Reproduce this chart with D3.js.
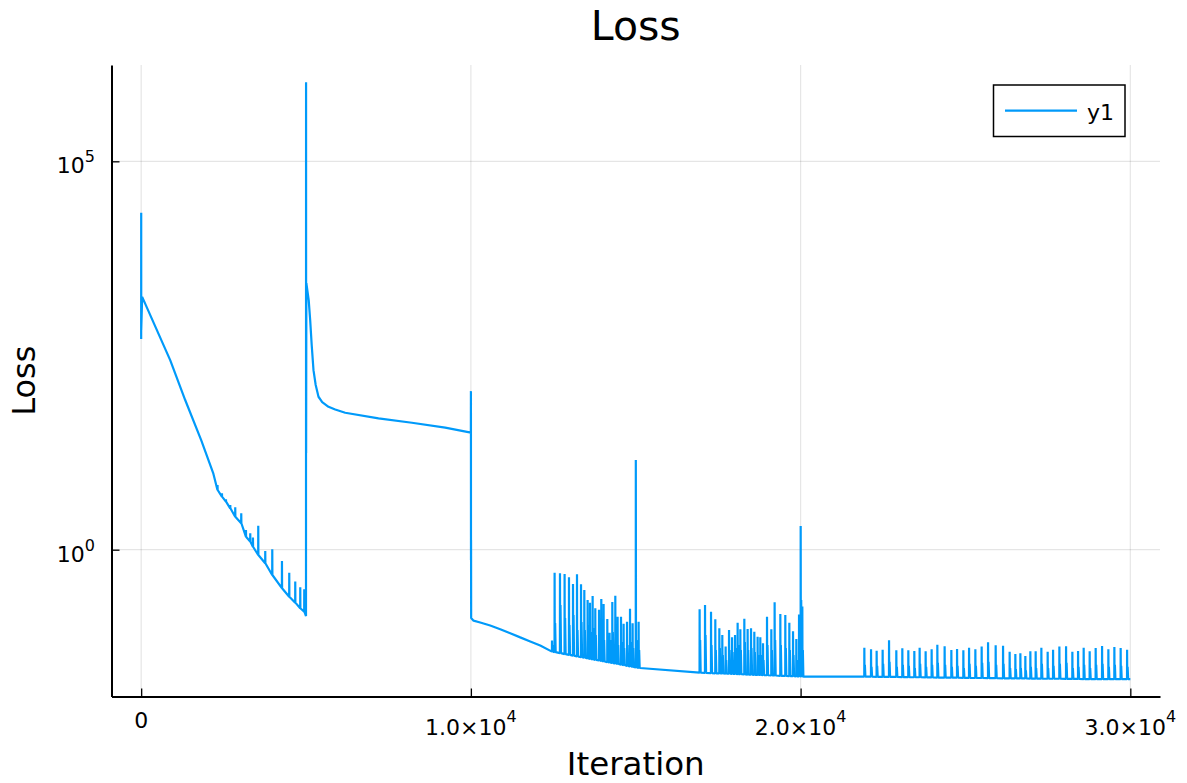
<!DOCTYPE html>
<html>
<head>
<meta charset="utf-8">
<script src="https://cdn.jsdelivr.net/npm/d3@7"></script>
<style>
  html, body { margin: 0; padding: 0; background: #fff; }
  svg { display: block; font-family: "DejaVu Sans", sans-serif; }
</style>
</head>
<body>
<svg id="chart" width="1187" height="783"></svg>
<script>
// ---------------- DATA ----------------
const seriesName = "y1";
const titleText = "Loss";
const xLabel = "Iteration";
const yLabel = "Loss";

const xTickValues = [0, 10000, 20000, 30000];
const xTickMantissa = ["0", "1.0×10", "2.0×10", "3.0×10"];
const xTickExponent = ["", "4", "4", "4"];
const yTickValues = [1, 100000];
const yTickBase = ["10", "10"];
const yTickExponent = ["0", "5"];

// phase 1: initial descent
const phase1 = [[0, 515], [1, 21700], [2, 673], [30, 1800], [880, 276], [1335, 84.5], [1820, 25.8], [2184, 9.71]];
const spikes1Iter = [2314, 2448, 2569, 2700, 2851, 3033, 3176, 3306, 3388, 3549, 3761, 3974, 4268, 4489, 4671, 4823, 4944];
const spikes1Base = [5.87, 4.81, 4.15, 3.41, 2.66, 2.19, 1.47, 1.27, 1.09, 0.855, 0.668, 0.472, 0.319, 0.248, 0.208, 0.176, 0.159];
const spikes1Peak = [6.80, 5.32, 4.45, 3.76, 3.51, 2.94, 1.79, 1.63, 1.43, 2.04, 0.962, 1.01, 0.716, 0.506, 0.388, 0.328, 0.309];

// phase 2: restart at 5000, plateau, drop at 10000
const phase2 = [[4999, 0.140], [5001, 1045000], [5003, 17.6], [5010, 2700], [5081, 1636], [5126, 904], [5172, 431],
  [5226, 205], [5293, 132], [5378, 93.1], [5490, 79.6], [5681, 69.2], [5885, 63.7], [6188, 58.0], [7198, 49.1],
  [8211, 43.1], [9221, 37.2], [9999, 32.1], [10001, 110], [10003, 0.737], [10005, 1.33], [10008, 0.132],
  [10080, 0.122], [10283, 0.1156], [10586, 0.1058], [10890, 0.0946], [11193, 0.0839], [11496, 0.0743],
  [11800, 0.0659], [12103, 0.0583]];

// spikes 12.5k - 15k
const spikesAIter = [12458, 12537, 12700, 12840, 12973, 13095, 13216, 13338, 13438, 13538, 13610, 13690, 13771, 13884,
  13953, 14023, 14135, 14205, 14287, 14378, 14448, 14551, 14630, 14733, 14824, 14903, 15000, 15085];
const spikesABase = [0.0487, 0.0480, 0.0466, 0.0453, 0.0443, 0.0432, 0.0423, 0.0413, 0.0406, 0.0399, 0.0393, 0.0387,
  0.0382, 0.0374, 0.0370, 0.0364, 0.0357, 0.0352, 0.0347, 0.0342, 0.0337, 0.0331, 0.0327, 0.0319, 0.0315, 0.0310, 0.0304, 0.0300];
const spikesAPeak = [0.0675, 0.506, 0.497, 0.487, 0.441, 0.362, 0.482, 0.359, 0.303, 0.225, 0.208, 0.254, 0.176, 0.168,
  0.232, 0.200, 0.128, 0.0855, 0.212, 0.256, 0.137, 0.137, 0.111, 0.118, 0.174, 0.113, 14.3, 0.118];
const spikesAEcho = [0.0593, 0.114, 0.194, 0.132, 0.107, 0.144, 0.0926, 0.117, 0.0926, 0.107, 0.0873, 0.0983, 0.0798,
  0.0926, 0.0730, 0.0689, 0.0593, 0.0689, 0.0873, 0.0689, 0.0593, 0.0649, 0.0543, 0.0593, 0.0649, 0.0543, 0.0689, 0.0512];

// spikes 17k - 20k
const spikesBIter = [16935, 17099, 17281, 17411, 17533, 17623, 17724, 17827, 17918, 18009, 18088, 18170, 18291, 18391,
  18494, 18594, 18694, 18776, 18858, 18979, 19110, 19210, 19383, 19534, 19656, 19768, 19868, 19950, 20000, 20050];
const spikesBBase = [0.0261, 0.0260, 0.0258, 0.0256, 0.0255, 0.0255, 0.0254, 0.0253, 0.0252, 0.0251, 0.0250, 0.0249,
  0.0248, 0.0247, 0.0246, 0.0245, 0.0244, 0.0244, 0.0243, 0.0242, 0.0240, 0.0240, 0.0238, 0.0237, 0.0236, 0.0235,
  0.0234, 0.0233, 0.0233, 0.0233];
const spikesBPeak = [0.171, 0.194, 0.159, 0.127, 0.0973, 0.0798, 0.0565, 0.0926, 0.0746, 0.0798, 0.115, 0.0946, 0.129,
  0.0953, 0.0973, 0.0881, 0.0759, 0.0746, 0.0624, 0.137, 0.0946, 0.210, 0.149, 0.144, 0.115, 0.0891, 0.0709, 0.146, 2.02, 0.185];
const spikesBEcho = [0.0689, 0.0798, 0.0593, 0.0512, 0.0543, 0.0441, 0.0380, 0.0512, 0.0482, 0.0543, 0.0593, 0.0512,
  0.0649, 0.0512, 0.0543, 0.0482, 0.0441, 0.0441, 0.0380, 0.0593, 0.0512, 0.0689, 0.0593, 0.0543, 0.0512, 0.0441,
  0.0380, 0.0593, 0.225, 0.0512];

// spikes 22k - 30k
const spikesCIter = [21931, 22134, 22304, 22486, 22680, 22901, 23083, 23265, 23447, 23608, 23790, 23972, 24145, 24366,
  24570, 24743, 24934, 25107, 25298, 25489, 25683, 25914, 26138, 26338, 26511, 26663, 26814, 26966, 27127, 27300,
  27491, 27655, 27846, 28049, 28240, 28413, 28583, 28765, 28947, 29141, 29332, 29514, 29705, 29900];
const spikesCBase = [0.0232, 0.0232, 0.0231, 0.0231, 0.0230, 0.0230, 0.0229,
  0.0229, 0.0228, 0.0228, 0.0227, 0.0227, 0.0226, 0.0226, 0.0225, 0.0225, 0.0224,
  0.0224, 0.0223, 0.0223, 0.0222, 0.0222, 0.0221, 0.0221, 0.0220, 0.0220, 0.0220, 0.0219, 0.0219, 0.0219,
  0.0218, 0.0218, 0.0218, 0.0217, 0.0217, 0.0217, 0.0216, 0.0216, 0.0216, 0.0216, 0.0215, 0.0215, 0.0215, 0.0215];
const spikesCPeak = [0.0548, 0.0523, 0.0501, 0.0516, 0.0682, 0.0507, 0.0538, 0.0507, 0.0497, 0.0548, 0.0492, 0.0523,
  0.0599, 0.0571, 0.0512, 0.0527, 0.0507, 0.0548, 0.0523, 0.0565, 0.0643, 0.0589, 0.0581, 0.0487, 0.0455, 0.0464,
  0.0428, 0.0492, 0.0492, 0.0548, 0.0487, 0.0516, 0.0565, 0.0571, 0.0487, 0.0497, 0.0548, 0.0492, 0.0543, 0.0577,
  0.0523, 0.0560, 0.0543, 0.0516];
const spikesCEcho = [0.033, 0.031, 0.032, 0.034, 0.036, 0.031, 0.033, 0.032, 0.030, 0.034, 0.031, 0.033, 0.035, 0.033,
  0.031, 0.032, 0.030, 0.034, 0.032, 0.035, 0.036, 0.033, 0.034, 0.030, 0.029, 0.030, 0.028, 0.031, 0.030, 0.034,
  0.030, 0.032, 0.034, 0.035, 0.030, 0.031, 0.033, 0.030, 0.033, 0.034, 0.031, 0.033, 0.032, 0.031];

const bridgeAB = [[15130, 0.0300]];
const bridgeBC = [[20090, 0.0232]];
const tail = [[30000, 0.0215]];

// ---------------- BUILD SERIES ----------------
function spikePoints(iters, bases, peaks, echoes) {
  const out = [];
  iters.forEach((it, i) => {
    out.push([it, bases[i]]);
    out.push([it + 2, peaks[i]]);
    if (echoes) {
      out.push([it + 8, bases[i]]);
      out.push([it + 18, echoes[i]]);
      out.push([it + 34, bases[i]]);
    } else {
      out.push([it + 6, bases[i]]);
    }
  });
  return out;
}
const series = [].concat(
  phase1,
  spikePoints(spikes1Iter, spikes1Base, spikes1Peak),
  phase2,
  spikePoints(spikesAIter, spikesABase, spikesAPeak, spikesAEcho),
  bridgeAB,
  spikePoints(spikesBIter, spikesBBase, spikesBPeak, spikesBEcho),
  bridgeBC,
  spikePoints(spikesCIter, spikesCBase, spikesCPeak, spikesCEcho),
  tail
);

// ---------------- CHART ----------------
const svg = d3.select("#chart");
const pLeft = 111.5, pRight = 1160, pTop = 65, pBottom = 696.5;
const lineColor = "#009AFA";

const x = d3.scaleLinear().domain([-900, 30900]).range([pLeft, pRight]);
const y = d3.scaleLog().domain([0.01288, 1.738e6]).range([pBottom, pTop]);

// grid
const grid = svg.append("g");
grid.selectAll("line.gx").data(xTickValues).join("line")
  .attr("x1", d => x(d)).attr("x2", d => x(d)).attr("y1", pTop).attr("y2", pBottom)
  .attr("stroke", "#000").attr("stroke-opacity", 0.1).attr("stroke-width", 1.2);
grid.selectAll("line.gy").data(yTickValues).join("line")
  .attr("x1", pLeft).attr("x2", pRight).attr("y1", d => y(d)).attr("y2", d => y(d))
  .attr("stroke", "#000").attr("stroke-opacity", 0.1).attr("stroke-width", 1.2);

// series
const line = d3.line().x(d => x(d[0])).y(d => y(d[1]));
svg.append("path").datum(series)
  .attr("d", line).attr("fill", "none")
  .attr("stroke", lineColor).attr("stroke-width", 2.2)
  .attr("stroke-linejoin", "miter").attr("stroke-miterlimit", 1);

// axes
const xAxis = d3.axisBottom(x).tickValues(xTickValues).tickFormat("").tickSizeInner(-8).tickSizeOuter(0);
const gx = svg.append("g").attr("transform", `translate(0,${pBottom})`).call(xAxis);
gx.select(".domain").attr("stroke", "#000").attr("stroke-width", 2);
gx.selectAll(".tick line").attr("stroke", "#000").attr("stroke-width", 1.3);

const yAxis = d3.axisLeft(y).tickValues(yTickValues).tickFormat("").tickSizeInner(-8).tickSizeOuter(0);
const gy = svg.append("g").attr("transform", `translate(${pLeft},0)`).call(yAxis);
gy.select(".domain").attr("stroke", "#000").attr("stroke-width", 2);
gy.selectAll(".tick line").attr("stroke", "#000").attr("stroke-width", 1.3);

// x tick labels
xTickValues.forEach((v, i) => {
  const t = svg.append("text").attr("x", x(v)).attr("text-anchor", "middle")
    .attr("font-size", 22).attr("fill", "#000");
  if (xTickExponent[i] === "") {
    t.attr("y", pBottom + 31.5).text(xTickMantissa[i]);
  } else {
    t.attr("y", pBottom + 38.5);
    t.append("tspan").text(xTickMantissa[i]);
    t.append("tspan").attr("dy", -13).attr("font-size", 16).text(xTickExponent[i]);
  }
});

// y tick labels
yTickValues.forEach((v, i) => {
  const t = svg.append("text").attr("x", 95).attr("y", y(v) + 12)
    .attr("text-anchor", "end").attr("font-size", 22).attr("fill", "#000");
  t.append("tspan").text(yTickBase[i]);
  t.append("tspan").attr("dy", -11).attr("font-size", 16).text(yTickExponent[i]);
});

// title and axis labels
svg.append("text").attr("x", (pLeft + pRight) / 2).attr("y", 39.5).attr("text-anchor", "middle")
  .attr("font-size", 41).attr("fill", "#000").text(titleText);
svg.append("text").attr("x", (pLeft + pRight) / 2).attr("y", 775).attr("text-anchor", "middle")
  .attr("font-size", 32.5).attr("fill", "#000").text(xLabel);
svg.append("text").attr("transform", `translate(35,${(pTop + pBottom) / 2}) rotate(-90)`)
  .attr("text-anchor", "middle").attr("font-size", 32).attr("fill", "#000").text(yLabel);

// legend
const lg = svg.append("g");
lg.append("rect").attr("x", 993.5).attr("y", 85).attr("width", 131.5).attr("height", 51.5)
  .attr("fill", "#fff").attr("stroke", "#000").attr("stroke-width", 1.5);
lg.append("line").attr("x1", 1005).attr("x2", 1077).attr("y1", 110.7).attr("y2", 110.7)
  .attr("stroke", lineColor).attr("stroke-width", 2.2);
lg.append("text").attr("x", 1087).attr("y", 119.5).attr("font-size", 22).attr("fill", "#000").text(seriesName);
</script>
</body>
</html>
